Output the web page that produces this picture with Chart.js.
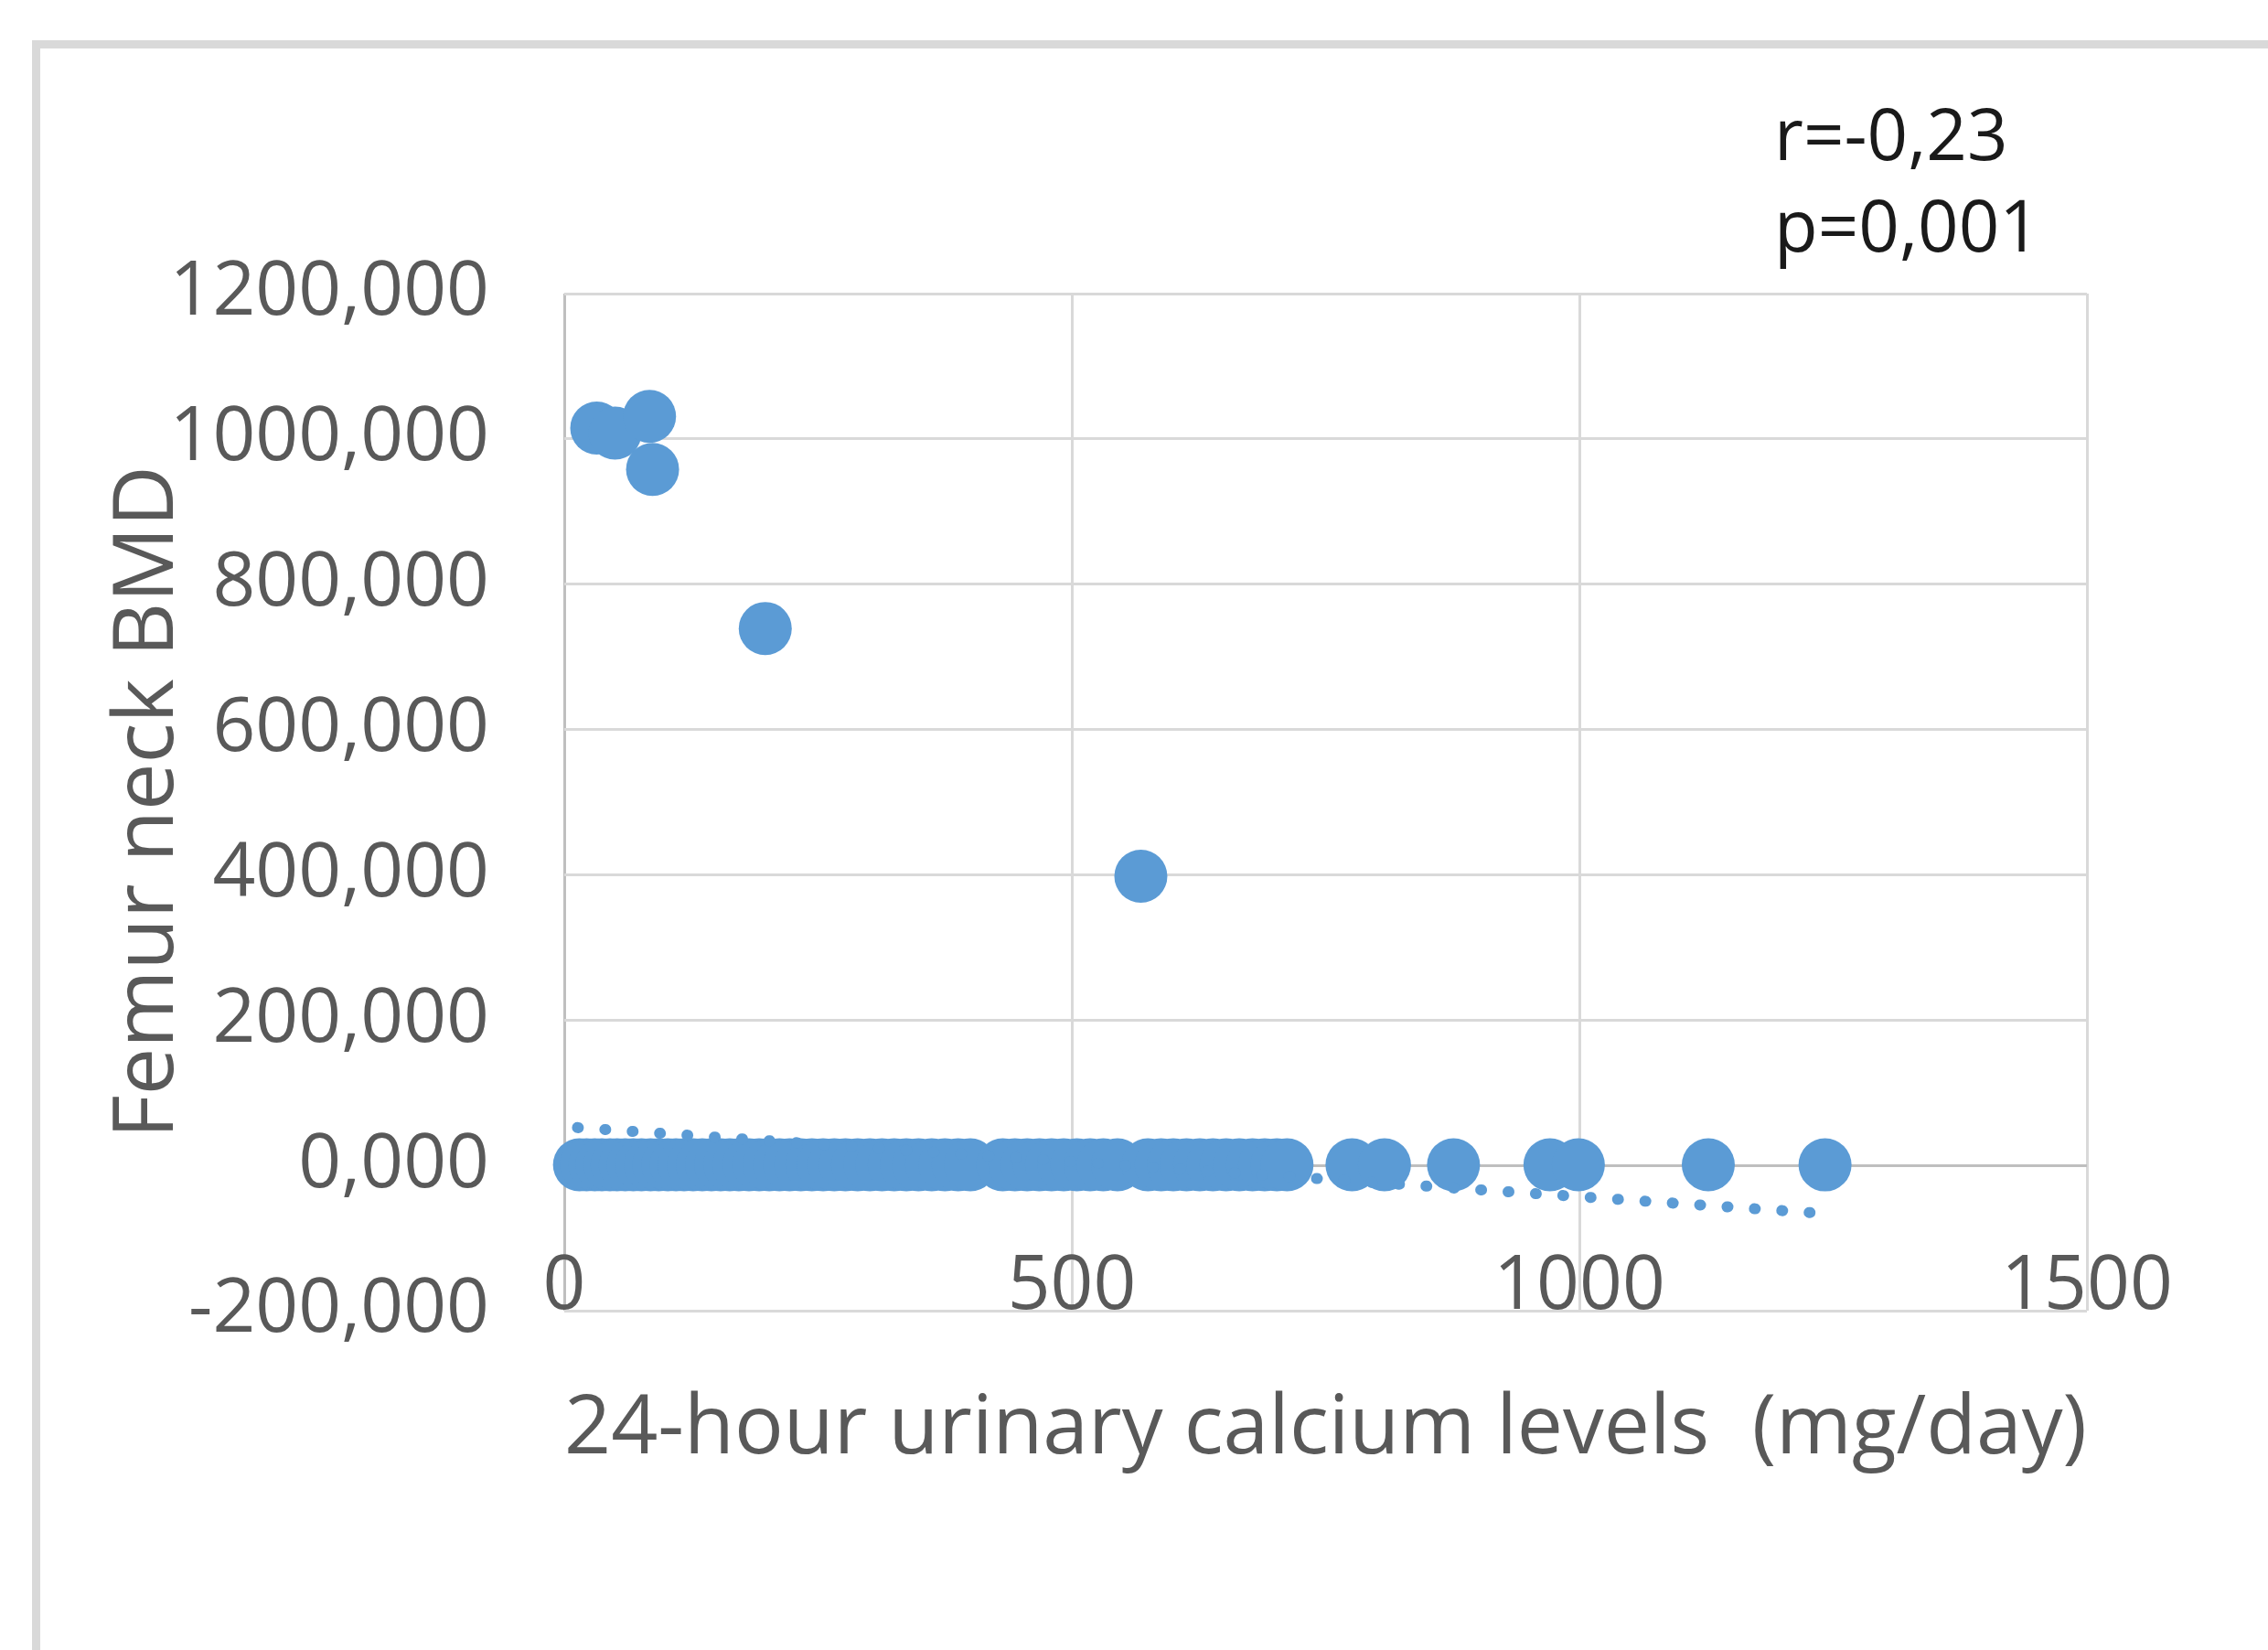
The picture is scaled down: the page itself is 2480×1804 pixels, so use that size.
<!DOCTYPE html>
<html>
<head>
<meta charset="utf-8">
<script src="https://cdn.jsdelivr.net/npm/chart.js@4.4.1/dist/chart.umd.min.js"></script>
<style>
  html, body { margin: 0; padding: 0; background: #ffffff; overflow: hidden; }
  #frame { position: absolute; left: 35px; top: 44px; width: 2600px; height: 1900px;
           border-left: 9px solid #D9D9D9; border-top: 9px solid #D9D9D9; }
  #wrap { position: absolute; left: 0; top: 0; width: 2480px; height: 1804px; }
</style>
</head>
<body>
<div id="frame"></div>
<div id="wrap"><canvas id="c" width="2480" height="1804"></canvas></div>
<script>
// ---- Data ----
const calciumX = [
  15, 22, 30, 37, 45, 52, 60, 68, 76, 85, 93, 102, 110, 118, 127, 136, 145, 154, 163, 172,
  182, 192, 202, 212, 222, 233, 244, 255, 266, 277, 289, 301, 313, 325, 337, 349, 362, 375,
  388, 400, 432, 444, 456, 468, 480, 492, 505, 518, 531, 545, 575, 588, 600, 613, 626, 639,
  652, 665, 678, 690, 702, 712, 776, 808, 876, 971, 999, 1127, 1242,
  32, 50, 84, 87, 198, 568
];
const femurBMD = [
  0.82, 0.91, 0.78, 0.88, 0.95, 0.84, 0.79, 0.90, 0.86, 0.93, 0.81, 0.87, 0.76, 0.92, 0.85, 0.80, 0.89, 0.83, 0.94, 0.77,
  0.86, 0.90, 0.82, 0.79, 0.88, 0.84, 0.91, 0.75, 0.87, 0.83, 0.80, 0.89, 0.85, 0.78, 0.92, 0.81, 0.86, 0.84,
  0.79, 0.88, 0.82, 0.90, 0.77, 0.85, 0.83, 0.80, 0.87, 0.76, 0.84, 0.81, 0.78, 0.86, 0.74, 0.82, 0.79, 0.85,
  0.77, 0.83, 0.80, 0.75, 0.81, 0.78, 0.76, 0.79, 0.72, 0.77, 0.74, 0.73, 0.70,
  1015, 1008, 1031, 958, 739, 398
];
// Linear trend line end points
const trendX = [13, 1238];
const trendY = [52, -66];

const xTickValues = [0, 500, 1000, 1500];
const yTickValues = [-200, 0, 200, 400, 600, 800, 1000, 1200];
const statsLines = ['r=-0,23', 'p=0,001'];
const xTitle = '24-hour urinary calcium levels  (mg/day)';
const yTitle = 'Femur neck BMD';

const BLUE = '#5B9BD5';
const GRID = '#D9D9D9';
const AXIS = '#BFBFBF';
const TXT = '#595959';
const FONT = '"Open Sans", "DejaVu Sans", sans-serif';

const scatterPoints = calciumX.map((x, i) => ({ x: x, y: femurBMD[i] }));
const trendPoints = trendX.map((x, i) => ({ x: x, y: trendY[i] }));

const statsPlugin = {
  id: 'stats',
  afterDraw(chart) {
    const ctx = chart.ctx;
    ctx.save();
    ctx.font = '78px ' + FONT;
    ctx.fillStyle = '#1a1a1a';
    ctx.textBaseline = 'alphabetic';
    ctx.textAlign = 'left';
    ctx.fillText(statsLines[0], 1940, 175);
    ctx.fillText(statsLines[1], 1940, 275);
    ctx.restore();
  }
};

new Chart(document.getElementById('c'), {
  type: 'scatter',
  data: {
    datasets: [
      {
        type: 'line',
        data: trendPoints,
        borderColor: BLUE,
        borderWidth: 12,
        borderDash: [1, 29],
        borderCapStyle: 'round',
        pointRadius: 0,
        fill: false,
        clip: false
      },
      {
        data: scatterPoints,
        backgroundColor: BLUE,
        borderWidth: 0,
        pointRadius: 29,
        pointHoverRadius: 29,
        clip: false
      }
    ]
  },
  options: {
    responsive: false,
    animation: false,
    events: [],
    layout: { padding: { left: 0, top: 321, right: 198, bottom: 187 } },
    plugins: { legend: { display: false }, tooltip: { enabled: false } },
    scales: {
      x: {
        type: 'linear',
        min: 0, max: 1500,
        afterBuildTicks: (s) => { s.ticks = xTickValues.map(v => ({ value: v })); },
        afterFit: (s) => { s.height = 184; },
        ticks: {
          mirror: true,
          padding: -24,
          color: TXT,
          font: { family: FONT, size: 82 },
          maxRotation: 0,
          autoSkip: false,
          callback: (v) => String(v)
        },
        grid: {
          drawTicks: false,
          lineWidth: 3,
          color: (c) => (c.tick && c.tick.value === 0 ? AXIS : GRID)
        },
        border: { display: false },
        title: {
          display: true,
          text: xTitle,
          color: TXT,
          font: { family: FONT, size: 90 },
          padding: { top: 0, bottom: 0 }
        }
      },
      y: {
        type: 'linear',
        min: -200, max: 1200,
        afterBuildTicks: (s) => { s.ticks = yTickValues.map(v => ({ value: v })); },
        afterFit: (s) => { s.width = 617; },
        ticks: {
          padding: 82,
          color: TXT,
          font: { family: FONT, size: 82 },
          callback: (v) => v.toFixed(3).replace('.', ',')
        },
        grid: {
          drawTicks: false,
          lineWidth: 3,
          color: (c) => (c.tick && c.tick.value === 0 ? AXIS : GRID)
        },
        border: { display: false },
        title: {
          display: true,
          text: yTitle,
          color: TXT,
          font: { family: FONT, size: 92 },
          padding: { top: 108, bottom: 0 }
        }
      }
    }
  },
  plugins: [statsPlugin]
});
</script>
</body>
</html>
